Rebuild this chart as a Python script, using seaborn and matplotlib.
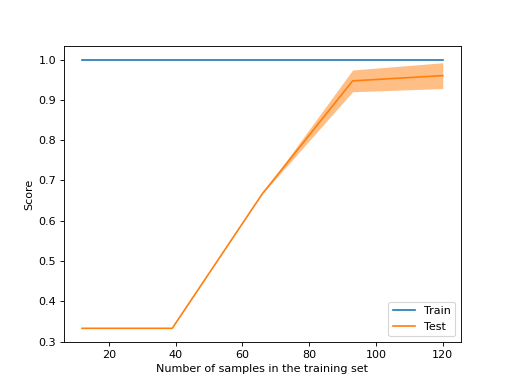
import matplotlib
matplotlib.use("Agg")
import matplotlib.pyplot as plt
import seaborn as sns
import numpy as np
import pandas as pd

train_sizes = [12, 39, 66, 93, 120]
train_mean = [1.0, 1.0, 1.0, 1.0, 1.0]
train_std = [0.0, 0.0, 0.0, 0.0, 0.0]
test_mean = [0.333, 0.333, 0.667, 0.947, 0.96]
test_std = [0.0, 0.0, 0.0, 0.027, 0.032]

fig, ax = plt.subplots(figsize=(6.4, 4.8), dpi=80)

df = pd.DataFrame({
    "size": train_sizes * 2,
    "score": train_mean + test_mean,
    "set": ["Train"] * 5 + ["Test"] * 5,
})
sns.lineplot(data=df, x="size", y="score", hue="set", palette=["#1f77b4", "#ff7f0e"],
             errorbar=None, ax=ax)

tm = np.array(train_mean); ts = np.array(train_std)
vm = np.array(test_mean); vs = np.array(test_std)
ax.fill_between(train_sizes, tm - ts, tm + ts, alpha=0.5, color="#1f77b4", linewidth=0)
ax.fill_between(train_sizes, vm - vs, vm + vs, alpha=0.5, color="#ff7f0e", linewidth=0)

ax.set_xlabel("Number of samples in the training set")
ax.set_ylabel("Score")
ax.legend(loc="lower right", title=None)
fig.savefig("out.png", dpi=80)
